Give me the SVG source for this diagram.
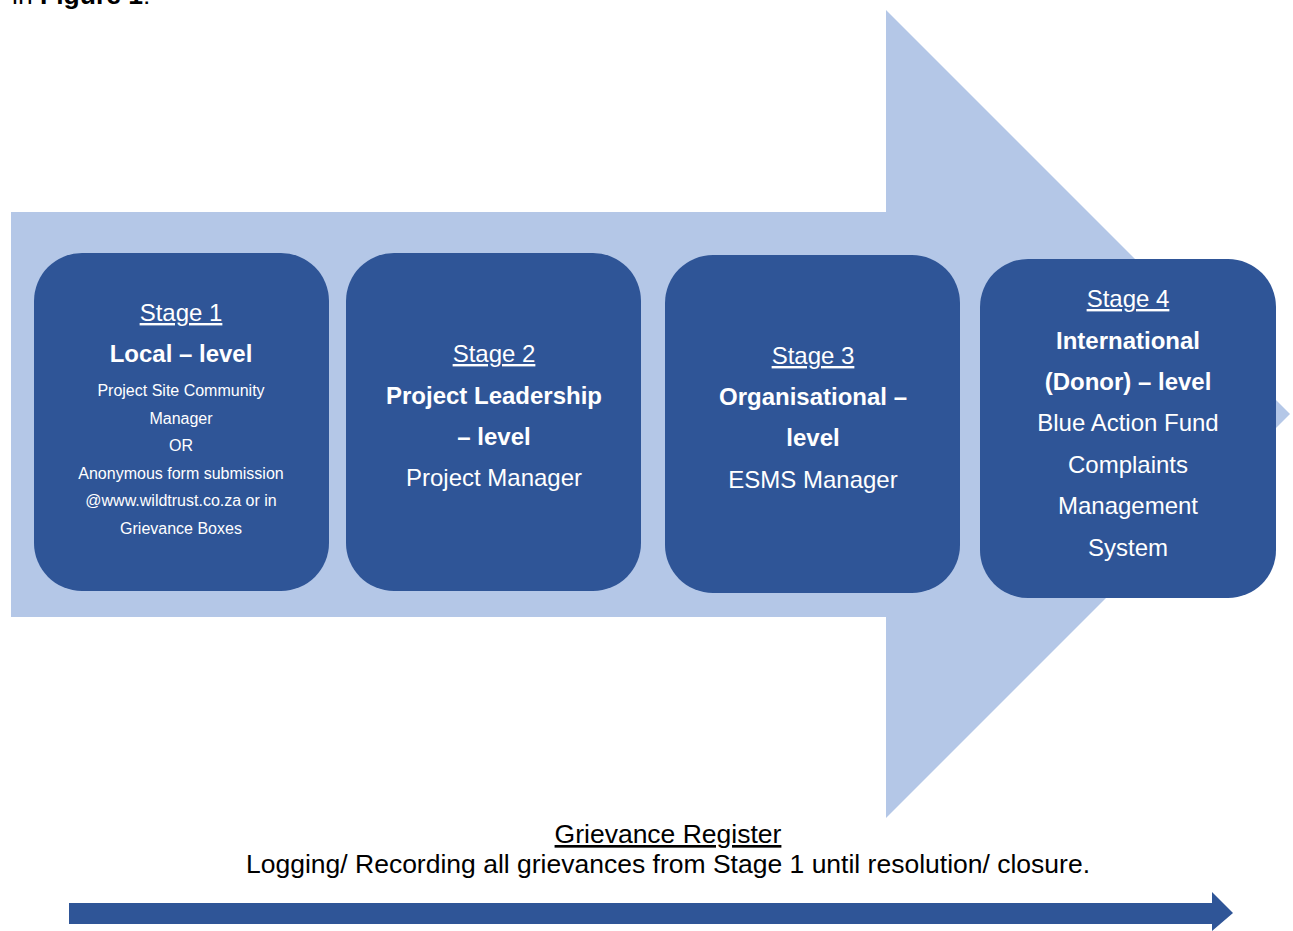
<svg xmlns="http://www.w3.org/2000/svg" width="1293" height="931" viewBox="0 0 1293 931">
<style>
text{font-family:"Liberation Sans",Arial,sans-serif;text-anchor:middle}
.w{fill:#ffffff}
.k{fill:#000000}
.u{text-decoration:underline}
.b{font-weight:bold}
.s24{font-size:24px}
.s16{font-size:16px}
.s26{font-size:26.5px}
.box{fill:#2F5597}
</style>
<rect width="1293" height="931" fill="#ffffff"/>
<text class="k s26" x="12" y="4" style="text-anchor:start">in <tspan class="b">Figure 1</tspan>:</text>
<g id="big-arrow">
<polygon points="11,212 886,212 886,10 1290,414 886,818 886,617 11,617" fill="#B4C7E7"/>
</g>
<g id="stage1">
<rect class="box" x="34" y="253" width="295" height="338" rx="48" ry="48"/>
<text class="w s24 u" x="181" y="321">Stage 1</text>
<text class="w s24 b" x="181" y="362">Local – level</text>
<text class="w s16" x="181" y="396">Project Site Community</text>
<text class="w s16" x="181" y="424">Manager</text>
<text class="w s16" x="181" y="451">OR</text>
<text class="w s16" x="181" y="479">Anonymous form submission</text>
<text class="w s16" x="181" y="506">@www.wildtrust.co.za or in</text>
<text class="w s16" x="181" y="534">Grievance Boxes</text>
</g>
<g id="stage2">
<rect class="box" x="346" y="253" width="295" height="338" rx="48" ry="48"/>
<text class="w s24 u" x="494" y="362">Stage 2</text>
<text class="w s24 b" x="494" y="404">Project Leadership</text>
<text class="w s24 b" x="494" y="445">– level</text>
<text class="w s24" x="494" y="486">Project Manager</text>
</g>
<g id="stage3">
<rect class="box" x="665" y="255" width="295" height="338" rx="48" ry="48"/>
<text class="w s24 u" x="813" y="364">Stage 3</text>
<text class="w s24 b" x="813" y="405">Organisational –</text>
<text class="w s24 b" x="813" y="446">level</text>
<text class="w s24" x="813" y="488">ESMS Manager</text>
</g>
<g id="stage4">
<rect class="box" x="980" y="259" width="296" height="339" rx="48" ry="48"/>
<text class="w s24 u" x="1128" y="307">Stage 4</text>
<text class="w s24 b" x="1128" y="349">International</text>
<text class="w s24 b" x="1128" y="390">(Donor) – level</text>
<text class="w s24" x="1128" y="431">Blue Action Fund</text>
<text class="w s24" x="1128" y="473">Complaints</text>
<text class="w s24" x="1128" y="514">Management</text>
<text class="w s24" x="1128" y="556">System</text>
</g>
<g id="register">
<text class="k s26 u" x="668" y="843">Grievance Register</text>
<text class="k s26" x="668" y="873">Logging/ Recording all grievances from Stage 1 until resolution/ closure.</text>
</g>
<g id="connectors">
<polygon points="69,903 1212,903 1212,892 1233,913 1212,931 1212,924 69,924" fill="#2F5597"/>
</g>
</svg>
